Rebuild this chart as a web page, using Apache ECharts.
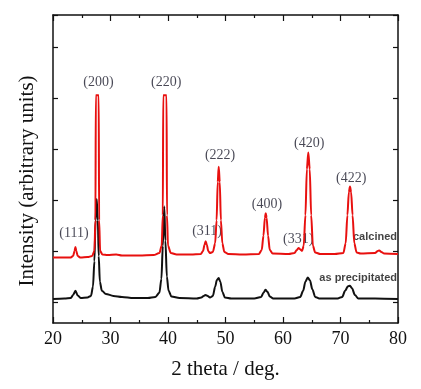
<!DOCTYPE html>
<html>
<head>
<meta charset="utf-8">
<script src="https://cdn.jsdelivr.net/npm/echarts@6/dist/echarts.min.js"></script>
<style>html,body{margin:0;padding:0;background:#fff}#c{width:421px;height:389px}</style>
</head>
<body>
<div id="c"></div>
<script>
// 2θ (deg), intensity (arbitrary units; tick spacing = 1)
const calcined = [[20,0.87],[21.5,0.87],[23,0.87],[23.5,0.9],[23.75,1.0],[23.9,1.08],[24.05,1.0],[24.3,0.9],[24.8,0.87],[26,0.88],[26.8,0.9],[27.2,1.0],[27.38,1.6],[27.45,4.05],[27.95,4.05],[28.02,1.6],[28.2,1.0],[28.6,0.93],[29.5,0.92],[31,0.93],[32,0.91],[35,0.91],[37.5,0.92],[38.5,0.96],[38.9,1.1],[39.1,1.7],[39.17,4.05],[39.75,4.05],[39.82,1.7],[40.0,1.1],[40.5,0.96],[41.5,0.93],[44,0.93],[45.7,0.94],[46.1,1.0],[46.35,1.12],[46.55,1.19],[46.75,1.12],[47.0,1.0],[47.3,0.96],[47.8,0.98],[48.2,1.15],[48.45,1.6],[48.65,2.35],[48.82,2.65],[49.0,2.35],[49.2,1.6],[49.45,1.15],[49.8,0.98],[50.5,0.94],[53,0.93],[55.8,0.94],[56.3,1.02],[56.6,1.3],[56.85,1.65],[57.0,1.74],[57.15,1.65],[57.4,1.3],[57.7,1.02],[58.2,0.95],[61,0.94],[62.0,0.96],[62.4,1.02],[62.7,1.06],[63.0,1.03],[63.3,1.0],[63.6,1.1],[63.9,1.7],[64.15,2.6],[64.4,2.93],[64.65,2.6],[64.9,1.7],[65.2,1.1],[65.6,0.97],[66.5,0.94],[69,0.94],[70.5,0.96],[70.9,1.15],[71.2,1.7],[71.45,2.15],[71.65,2.26],[71.85,2.15],[72.1,1.7],[72.4,1.15],[72.8,0.97],[73.5,0.95],[76,0.96],[76.5,1.0],[76.75,1.01],[77.1,0.98],[77.6,0.95],[80,0.94]];
const asPrecipitated = [[20,0.06],[22,0.07],[23.1,0.08],[23.5,0.14],[23.9,0.22],[24.3,0.13],[24.8,0.08],[26,0.09],[26.6,0.12],[26.95,0.3],[27.2,0.8],[27.4,1.6],[27.6,2.02],[27.8,1.6],[27.95,0.9],[28.15,0.4],[28.5,0.22],[29.2,0.16],[30.5,0.12],[32,0.1],[34,0.08],[36.5,0.08],[37.8,0.1],[38.5,0.18],[38.85,0.45],[39.1,1.1],[39.35,1.87],[39.55,1.2],[39.8,0.5],[40.1,0.22],[40.6,0.11],[42,0.08],[45,0.07],[45.8,0.09],[46.2,0.12],[46.5,0.14],[46.9,0.12],[47.3,0.09],[47.8,0.12],[48.2,0.3],[48.5,0.43],[48.8,0.47],[49.1,0.4],[49.45,0.2],[49.9,0.09],[51,0.07],[55,0.07],[56.2,0.1],[56.6,0.18],[56.95,0.24],[57.3,0.2],[57.7,0.11],[58.3,0.07],[62,0.07],[63.0,0.1],[63.5,0.22],[63.9,0.4],[64.3,0.48],[64.7,0.42],[65.1,0.25],[65.6,0.1],[66.3,0.07],[69.5,0.07],[70.3,0.1],[70.8,0.22],[71.3,0.31],[71.65,0.32],[72.0,0.27],[72.5,0.14],[73.1,0.07],[76,0.07],[80,0.06]];
const peakNames = ['(111)','(200)','(220)','(311)','(222)','(400)','(331)','(420)','(422)'];
const peakLabelX = [23.65,27.9,39.7,46.8,49.05,57.2,62.65,64.55,71.85];
const peakLabelY = [1.35,4.31,4.31,1.39,2.88,1.92,1.22,3.1,2.42];
const seriesNames = ['calcined','as precipitated'];
const seriesNameY = [1.27,0.47];
const xTicks = [20,30,40,50,60,70,80];
const yTicks = [0,1,2,3,4,5];

const chart = echarts.init(document.getElementById('c'), null, {renderer:'canvas'});
const serif = '"Liberation Serif","DejaVu Serif",serif';
const axisLine = {show:true, onZero:false, lineStyle:{color:'#111', width:1.5}};
const tickStyle = {color:'#111', width:1.2};
const xCommon = {type:'value', gridIndex:0, min:xTicks[0], max:xTicks[xTicks.length-1], interval:10,
  axisLine, splitLine:{show:false},
  axisTick:{show:true, inside:true, length:6, lineStyle:tickStyle},
  minorTick:{show:true, splitNumber:2, length:3, lineStyle:tickStyle}};
const yCommon = {type:'value', gridIndex:0, min:-0.41, max:5.62, axisLine, splitLine:{show:false},
  axisLabel:{show:false}, axisTick:{show:false}};
// tick-only grid: bottom edge sits on intensity 0, spacing 1
const yTickAxis = {type:'value', gridIndex:1, min:yTicks[0], max:5.63, interval:1,
  axisLine:{show:false}, splitLine:{show:false}, axisLabel:{show:false},
  axisTick:{show:true, inside:true, length:5, lineStyle:tickStyle}};

chart.setOption({
  animation:false,
  backgroundColor:'#fff',
  grid:[{left:53, right:23, top:15, bottom:66},{left:53, right:23, top:15, bottom:86.7}],
  xAxis:[
    Object.assign({}, xCommon, {position:'bottom',
      axisLabel:{show:true, fontFamily:serif, fontSize:18, color:'#111', margin:7},
      name:'2 theta / deg.', nameLocation:'middle', nameGap:36,
      nameTextStyle:{fontFamily:serif, fontSize:21, color:'#111'}}),
    Object.assign({}, xCommon, {position:'top', axisLabel:{show:false}}),
    {type:'value', gridIndex:1, min:20, max:80, show:false}
  ],
  yAxis:[
    Object.assign({}, yCommon, {position:'left'}),
    Object.assign({}, yCommon, {position:'right'}),
    Object.assign({}, yTickAxis, {position:'left'}),
    Object.assign({}, yTickAxis, {position:'right'})
  ],
  graphic:[{type:'text', x:27, y:181, rotation:Math.PI/2,
    style:{text:'Intensity (arbitrary units)', font:'21px "Liberation Serif"', fill:'#111', align:'center', verticalAlign:'middle'}}],
  series:[
    {name:seriesNames[0], type:'line', xAxisIndex:0, yAxisIndex:0, data:calcined, showSymbol:false, smooth:0.3, smoothMonotone:'x',
     lineStyle:{color:'#e8100f', width:2}, z:3},
    {name:seriesNames[1], type:'line', xAxisIndex:0, yAxisIndex:0, data:asPrecipitated, showSymbol:false, smooth:0.3, smoothMonotone:'x',
     lineStyle:{color:'#111', width:2}, z:2},
    {type:'scatter', xAxisIndex:0, yAxisIndex:0, symbolSize:0, silent:true,
     data:peakNames.map((n,i)=>({value:[peakLabelX[i], peakLabelY[i]], name:n})),
     label:{show:true, position:'inside', formatter:p=>p.name, fontFamily:serif, fontSize:14, color:'#1a1a2a'}},
    {type:'scatter', xAxisIndex:0, yAxisIndex:0, symbolSize:0, silent:true,
     data:seriesNames.map((n,i)=>({value:[80, seriesNameY[i]], name:n})),
     label:{show:true, position:'left', distance:1, formatter:p=>p.name, fontFamily:'"Liberation Sans",Arial,sans-serif', fontWeight:'bold', fontSize:11, color:'#111'}},
    {type:'line', xAxisIndex:2, yAxisIndex:2, data:[], silent:true},
    {type:'line', xAxisIndex:2, yAxisIndex:3, data:[], silent:true}
  ]
});
</script>
</body>
</html>
